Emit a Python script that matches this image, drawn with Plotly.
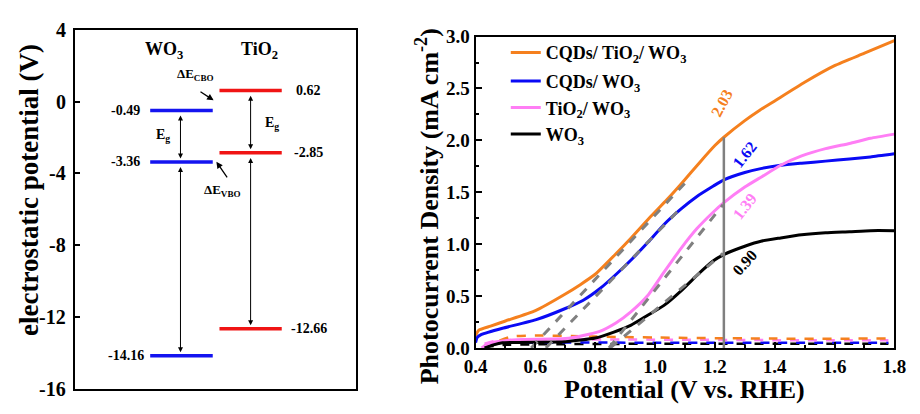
import plotly.graph_objects as go

# ---------------- Left panel data (band alignment) ----------------
wo3_levels = [-0.49, -3.36, -14.16]
tio2_levels = [0.62, -2.85, -12.66]
wo3_labels = ["-0.49", "-3.36", "-14.16"]
tio2_labels = ["0.62", "-2.85", "-12.66"]
left_ticks = [4, 0, -4, -8, -12, -16]
left_ticktext = ["4", "0", "-4", "-8", "-12", "-16"]

# ---------------- Right panel data (LSV curves) ----------------
orange_x = [0.40, 0.41, 0.45, 0.50, 0.60, 0.70, 0.75, 0.80, 0.87, 0.92, 0.98, 1.04, 1.09, 1.15,
            1.20, 1.23, 1.30, 1.35, 1.40, 1.50, 1.60, 1.70, 1.80]
orange_y = [0.12, 0.17, 0.21, 0.26, 0.36, 0.52, 0.61, 0.71, 0.91, 1.06, 1.25, 1.43, 1.59, 1.79,
            1.95, 2.03, 2.19, 2.29, 2.38, 2.56, 2.72, 2.84, 2.96]

blue_x = [0.40, 0.405, 0.42, 0.49, 0.60, 0.70, 0.76, 0.815, 0.87, 0.924, 0.977, 1.03, 1.087, 1.14,
          1.195, 1.23, 1.30, 1.357, 1.42, 1.49, 1.57, 1.65, 1.72, 1.80]
blue_y = [0.05, 0.10, 0.13, 0.19, 0.27, 0.38, 0.46, 0.57, 0.71, 0.86, 1.02, 1.19, 1.34, 1.46,
          1.56, 1.62, 1.69, 1.73, 1.76, 1.78, 1.80, 1.82, 1.84, 1.87]

pink_x = [0.42, 0.44, 0.47, 0.54, 0.70, 0.76, 0.815, 0.869, 0.92, 0.977, 1.03, 1.087, 1.14, 1.195,
          1.23, 1.30, 1.357, 1.42, 1.49, 1.57, 1.65, 1.72, 1.80]
pink_y = [0.00, 0.04, 0.06, 0.08, 0.09, 0.12, 0.16, 0.24, 0.35, 0.51, 0.73, 0.96, 1.15, 1.31,
          1.40, 1.55, 1.65, 1.76, 1.85, 1.92, 1.97, 2.02, 2.06]

black_x = [0.43, 0.46, 0.49, 0.70, 0.80, 0.86, 0.92, 0.967, 1.03, 1.087, 1.14, 1.195, 1.23,
           1.30, 1.357, 1.42, 1.49, 1.57, 1.65, 1.72, 1.80]
black_y = [0.00, 0.03, 0.05, 0.06, 0.095, 0.15, 0.22, 0.30, 0.41, 0.55, 0.70, 0.84, 0.90,
           0.98, 1.03, 1.06, 1.09, 1.11, 1.12, 1.13, 1.13]

# dark currents (dashed)
dark_orange_x = [0.48, 0.52, 0.60, 0.80, 1.00, 1.40, 1.78]
dark_orange_y = [0.07, 0.11, 0.12, 0.11, 0.10, 0.09, 0.09]
dark_pink_x = [0.43, 0.47, 0.60, 1.00, 1.40, 1.78]
dark_pink_y = [0.04, 0.07, 0.08, 0.08, 0.075, 0.075]
dark_blue_x = [0.45, 0.50, 1.00, 1.40, 1.78]
dark_blue_y = [0.03, 0.05, 0.05, 0.05, 0.05]
dark_black_x = [0.43, 0.50, 1.00, 1.40, 1.78]
dark_black_y = [0.01, 0.03, 0.04, 0.04, 0.04]

# linear fits (gray dashed) as end points
fit_orange_x, fit_orange_y = [0.586, 1.12], [0.0, 1.65]
fit_blue_x, fit_blue_y = [0.635, 1.08], [0.0, 1.33]
fit_pink_x, fit_pink_y = [0.846, 1.227], [0.0, 1.38]
fit_black_x, fit_black_y = [0.85, 1.227], [0.0, 0.91]

ref_potential = 1.23
ref_values = [2.03, 1.62, 1.39, 0.90]
ref_labels = ["2.03", "1.62", "1.39", "0.90"]

C_OR = "#F5801E"
C_BL = "#0A0AF5"
C_PK = "#FF7EF5"
C_BK = "#000000"
C_GR = "#808080"
FONT = "Liberation Serif"

fig = go.Figure()

# ---- left panel traces ----
for lv in wo3_levels:
    fig.add_trace(go.Scatter(x=[2.67, 4.9], y=[lv, lv], mode="lines",
                             line=dict(color="#1414F0", width=3.5), showlegend=False,
                             xaxis="x", yaxis="y", hoverinfo="skip"))
for lv in tio2_levels:
    fig.add_trace(go.Scatter(x=[5.14, 7.36], y=[lv, lv], mode="lines",
                             line=dict(color="#F01414", width=3.5), showlegend=False,
                             xaxis="x", yaxis="y", hoverinfo="skip"))

# ---- right panel traces ----
def line(x, y, color, name=None, dash=None, width=3, show=False, shape="spline", legend="legend"):
    fig.add_trace(go.Scatter(x=x, y=y, mode="lines", name=name,
                             line=dict(color=color, width=width, dash=dash, shape=shape,
                                       smoothing=0.5 if shape == "spline" else None),
                             showlegend=show, legend=legend, xaxis="x2", yaxis="y2",
                             hoverinfo="skip"))

# dark currents
line(dark_black_x, dark_black_y, C_BK, dash="dash", width=2.5)
line(dark_blue_x, dark_blue_y, C_BL, dash="dash", width=2.5)
line(dark_pink_x, dark_pink_y, C_PK, dash="dash", width=2.5)
line(dark_orange_x, dark_orange_y, C_OR, dash="dash", width=2.5)

line(orange_x, orange_y, C_OR, "<b>CQDs/ TiO<sub>2</sub>/ WO<sub>3</sub></b>", show=True, legend="legend")
line(blue_x, blue_y, C_BL, "<b>CQDs/ WO<sub>3</sub></b>", show=True, legend="legend2")
line(pink_x, pink_y, C_PK, "<b>TiO<sub>2</sub>/ WO<sub>3</sub></b>", show=True, legend="legend3")
line(black_x, black_y, C_BK, "<b>WO<sub>3</sub></b>", show=True, legend="legend4")

for fx, fy in [(fit_orange_x, fit_orange_y), (fit_blue_x, fit_blue_y),
               (fit_pink_x, fit_pink_y), (fit_black_x, fit_black_y)]:
    line(fx, fy, C_GR, dash="dash", width=3, shape="linear")

line([ref_potential, ref_potential], [0, ref_values[0]], C_GR, width=2.5, shape="linear")

ann = []
def txt(x, y, t, size, color="black", ref=("x", "y"), angle=0, xanchor="center"):
    ann.append(dict(x=x, y=y, xref=ref[0], yref=ref[1], text=t, showarrow=False,
                    xanchor=xanchor, yanchor="middle", textangle=angle,
                    font=dict(size=size, family=FONT, color=color)))

# left axis tick labels (hyphen minus, like the original)
for tv, tt in zip(left_ticks, left_ticktext):
    txt(58 / 920, tv, "<b>%s</b>" % tt, 20, ref=("paper", "y"), xanchor="right")

# left value labels
for lv, t in zip(wo3_levels, wo3_labels):
    txt(1.8, lv, "<b>%s</b>" % t, 14)
for lv, t in zip(tio2_levels, tio2_labels):
    txt(8.33, lv, "<b>%s</b>" % t, 14)
txt(3.17, 2.85, "<b>WO<sub>3</sub></b>", 18)
txt(6.57, 2.85, "<b>TiO<sub>2</sub></b>", 18)
txt(3.12, -1.9, "<b>E<sub>g</sub></b>", 14)
txt(7.0, -1.2, "<b>E<sub>g</sub></b>", 14)
txt(4.3, 1.5, "<b>ΔE<sub>CBO</sub></b>", 13)
txt(5.25, -4.95, "<b>ΔE<sub>VBO</sub></b>", 13)
# pointer arrows
ann.append(dict(x=4.93, y=0.08, ax=4.41, ay=0.61, xref="x", yref="y", axref="x", ayref="y",
                text="", showarrow=True, arrowhead=2, arrowsize=1, arrowwidth=1.3, arrowcolor="black"))
ann.append(dict(x=5.03, y=-3.35, ax=5.45, ay=-4.3, xref="x", yref="y", axref="x", ayref="y",
                text="", showarrow=True, arrowhead=2, arrowsize=1, arrowwidth=1.3, arrowcolor="black"))
# double-headed band gap arrows
for x0, ytop, ybot in [(3.75, wo3_levels[0], wo3_levels[1]), (3.75, wo3_levels[1], wo3_levels[2]),
                       (6.25, tio2_levels[0], tio2_levels[1]), (6.25, tio2_levels[1], tio2_levels[2])]:
    ann.append(dict(x=x0, y=ybot + 0.2, ax=x0, ay=ytop - 0.2, xref="x", yref="y", axref="x",
                    ayref="y", text="", showarrow=True, arrowhead=2, startarrowhead=2,
                    arrowside="end+start", arrowsize=1, arrowwidth=1, arrowcolor="black"))

# right panel value labels
lab_xy = [(1.225, 2.36), (1.30, 1.86), (1.30, 1.36), (1.30, 0.82)]
lab_style = [(C_OR, -62), (C_BL, -52), (C_PK, -52), (C_BK, -48)]
for (lx, ly), t, (c, ang) in zip(lab_xy, ref_labels, lab_style):
    txt(lx, ly, "<b>%s</b>" % t, 16, color=c, ref=("x2", "y2"), angle=ang)

# axis titles
txt(18 / 920, (414 - 190) / 414, "<b>electrostatic potential (V)</b>", 27,
    ref=("paper", "paper"), angle=-90)
txt(427 / 920, (414 - 207) / 414, "<b>Photocurrent Density (mA cm<sup>-2</sup>)</b>", 26,
    ref=("paper", "paper"), angle=-90)
txt(690 / 920, (414 - 400) / 414, "<b>Potential (V vs. RHE)</b>", 26, ref=("paper", "paper"))

leg_common = dict(x=507 / 920, xanchor="left", yanchor="middle", bgcolor="rgba(0,0,0,0)",
                  font=dict(size=18, family=FONT, color="black"), tracegroupgap=0)
leg_rows = [45, 75, 103, 131]

fig.update_layout(
    width=920, height=414, margin=dict(l=0, r=0, t=0, b=0),
    paper_bgcolor="white", plot_bgcolor="white",
    font=dict(family=FONT, color="black"),
    annotations=ann,
    xaxis=dict(domain=[65 / 920, 353 / 920], range=[0, 10], showticklabels=False, ticks="",
               showline=True, linewidth=2, linecolor="black", mirror=True, showgrid=False,
               zeroline=False),
    yaxis=dict(domain=[15 / 414, 393 / 414], range=[-16, 4], tickvals=left_ticks,
               showticklabels=False, ticks="inside", ticklen=5,
               tickwidth=2, tickcolor="black",
               showline=True, linewidth=2, linecolor="black", mirror=True, showgrid=False,
               zeroline=False, anchor="x"),
    xaxis2=dict(domain=[476 / 920, 906 / 920], range=[0.4, 1.8], dtick=0.2, tick0=0.4,
                tickformat=".1f", ticks="inside", ticklen=6, tickwidth=2, tickcolor="black",
                minor=dict(dtick=0.1, ticks="inside", ticklen=3, tickwidth=1.5, tickcolor="black"),
                tickfont=dict(size=19, family=FONT, weight="bold"), showline=True, linewidth=2,
                linecolor="black", mirror=True, showgrid=False, zeroline=False, anchor="y2"),
    yaxis2=dict(domain=[58 / 414, 386 / 414], range=[0, 3.0], dtick=0.5, tickformat=".1f",
                ticks="inside", ticklen=6, tickwidth=2, tickcolor="black",
                minor=dict(dtick=0.25, ticks="inside", ticklen=3, tickwidth=1.5, tickcolor="black"),
                tickfont=dict(size=19, family=FONT, weight="bold"), showline=True, linewidth=2,
                linecolor="black", mirror=True, showgrid=False, zeroline=False, anchor="x2"),
    legend=dict(y=(414 - leg_rows[0]) / 414, **leg_common),
    legend2=dict(y=(414 - leg_rows[1]) / 414, **leg_common),
    legend3=dict(y=(414 - leg_rows[2]) / 414, **leg_common),
    legend4=dict(y=(414 - leg_rows[3]) / 414, **leg_common),
)

fig.write_html("out.html")
